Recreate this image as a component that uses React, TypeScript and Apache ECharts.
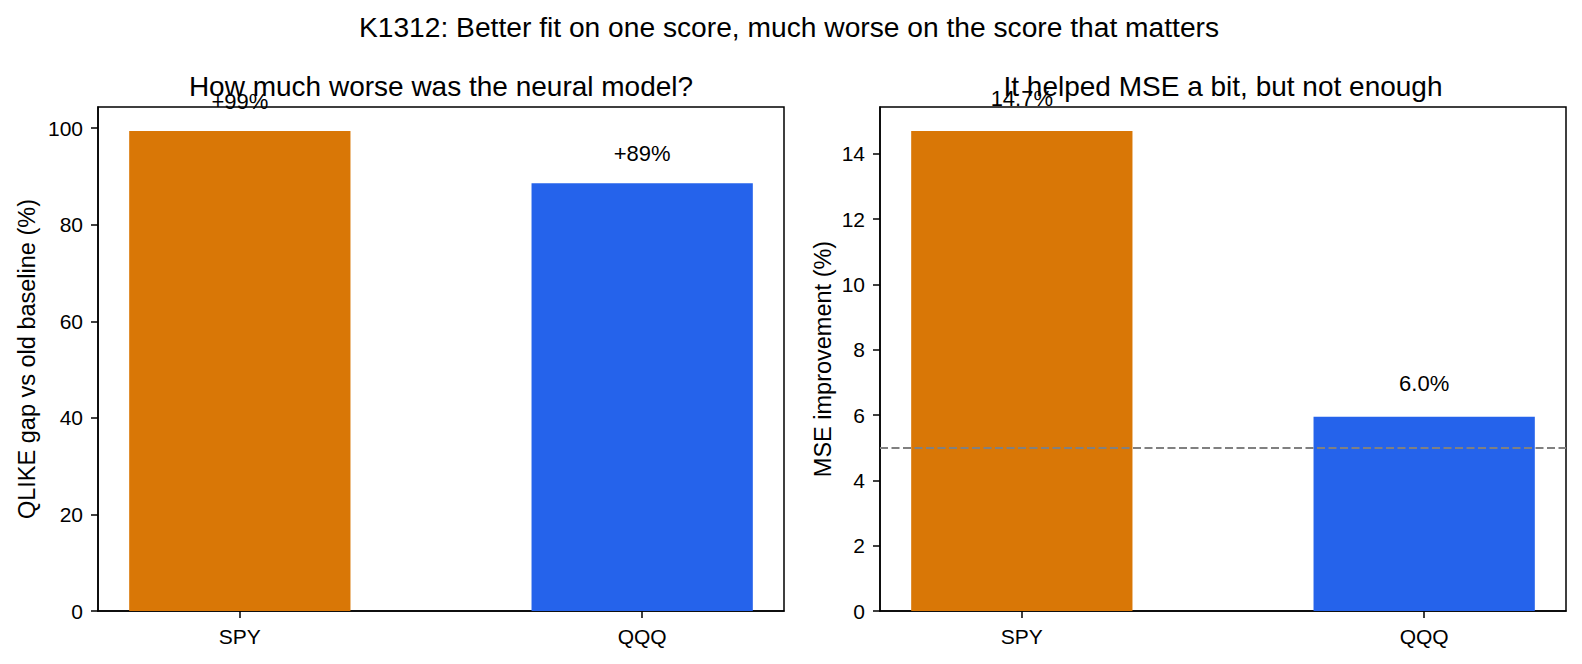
import { useEffect, useRef } from "react";
import * as echarts from "echarts";

// ---- data ----
const categories = ["SPY", "QQQ"];
const categoryPositions = [0, 1];
const barColors = ["#D97706", "#2563EB"];
const qlikeGap = [99.4, 88.6];
const qlikeLabels = ["+99%", "+89%"];
const mseImprovement = [14.7, 5.95];
const mseLabels = ["14.7%", "6.0%"];
const mseThreshold = 5;
const leftTicks = [0, 20, 40, 60, 80, 100];
const rightTicks = [0, 2, 4, 6, 8, 10, 12, 14];

const suptitle = "K1312: Better fit on one score, much worse on the score that matters";
const leftTitle = "How much worse was the neural model?";
const rightTitle = "It helped MSE a bit, but not enough";
const leftYName = "QLIKE gap vs old baseline (%)";
const rightYName = "MSE improvement (%)";

const FONT = "Liberation Sans, Arial, sans-serif";
const BAR_FRAC = 0.55;
const X_MIN = -BAR_FRAC / 2 - 0.05 * (1 + BAR_FRAC);
const X_MAX = 1 + BAR_FRAC / 2 + 0.05 * (1 + BAR_FRAC);

const GRID_TOP = 107;
const GRID_H = 504;
const GRID_W = 686;
const LEFT_X = 98;
const RIGHT_X = 880;

function xAxisFor(gridIndex: number) {
  return {
    type: "value",
    gridIndex,
    min: X_MIN,
    max: X_MAX,
    splitLine: { show: false },
    axisLine: { show: true, onZero: false, lineStyle: { color: "#000", width: 1.5 } },
    axisTick: {
      show: true,
      customValues: categoryPositions,
      length: 7,
      lineStyle: { color: "#000", width: 1.5 },
    },
    axisLabel: {
      show: true,
      customValues: categoryPositions,
      formatter: (v: number) => categories[Math.round(v)] ?? "",
      margin: 15,
      fontSize: 21,
      color: "#000",
      fontFamily: FONT,
    },
  };
}

function yAxisFor(gridIndex: number, max: number, ticks: number[], name: string, nameGap: number) {
  return {
    type: "value",
    gridIndex,
    position: "left",
    min: 0,
    max,
    name,
    nameLocation: "middle",
    nameRotate: 90,
    nameGap,
    nameTextStyle: { fontSize: 23.5, color: "#000", fontFamily: FONT },
    splitLine: { show: false },
    axisLine: { show: true, onZero: false, lineStyle: { color: "#000", width: 1.5 } },
    axisTick: { show: true, customValues: ticks, length: 7, lineStyle: { color: "#000", width: 1.5 } },
    axisLabel: {
      show: true,
      customValues: ticks,
      margin: 15,
      fontSize: 21,
      color: "#000",
      fontFamily: FONT,
    },
  };
}

export default function App() {
  const ref = useRef<HTMLDivElement>(null);

  useEffect(() => {
    document.body.style.margin = "0";
    if (!ref.current) return;
    const chart = echarts.init(ref.current, undefined, { renderer: "svg" });

    const leftMax = Math.max(...qlikeGap) * 1.05;
    const rightMax = Math.max(...mseImprovement) * 1.05;

    const textStyleBase = { fill: "#000", fontFamily: FONT };

    chart.setOption({
      animation: false,
      backgroundColor: "#fff",
      textStyle: { fontFamily: FONT },
      graphic: [
        {
          type: "text",
          x: 789,
          y: 27,
          style: { ...textStyleBase, text: suptitle, fontSize: 28.2, align: "center", verticalAlign: "middle" },
        },
        {
          type: "text",
          x: LEFT_X + GRID_W / 2,
          y: 86,
          style: { ...textStyleBase, text: leftTitle, fontSize: 28, align: "center", verticalAlign: "middle" },
        },
        {
          type: "text",
          x: RIGHT_X + GRID_W / 2,
          y: 86,
          style: { ...textStyleBase, text: rightTitle, fontSize: 28, align: "center", verticalAlign: "middle" },
        },
      ],
      grid: [
        {
          left: LEFT_X,
          top: GRID_TOP,
          width: GRID_W,
          height: GRID_H,
          show: true,
          borderColor: "#000",
          borderWidth: 1.5,
          backgroundColor: "transparent",
        },
        {
          left: RIGHT_X,
          top: GRID_TOP,
          width: GRID_W,
          height: GRID_H,
          show: true,
          borderColor: "#000",
          borderWidth: 1.5,
          backgroundColor: "transparent",
        },
      ],
      xAxis: [xAxisFor(0), xAxisFor(1)],
      yAxis: [
        yAxisFor(0, leftMax, leftTicks, leftYName, 59),
        yAxisFor(1, rightMax, rightTicks, rightYName, 45),
      ],
      series: [
        {
          type: "bar",
          xAxisIndex: 0,
          yAxisIndex: 0,
          barWidth: `${BAR_FRAC * 100}%`,
          data: categoryPositions.map((x, i) => ({
            value: [x, qlikeGap[i]],
            itemStyle: { color: barColors[i] },
          })),
          label: {
            show: true,
            position: "top",
            distance: 19,
            fontSize: 22,
            color: "#000",
            fontFamily: FONT,
            formatter: (p: any) => qlikeLabels[p.dataIndex],
          },
          z: 1,
        },
        {
          type: "bar",
          xAxisIndex: 1,
          yAxisIndex: 1,
          barWidth: `${BAR_FRAC * 100}%`,
          data: categoryPositions.map((x, i) => ({
            value: [x, mseImprovement[i]],
            itemStyle: { color: barColors[i] },
          })),
          label: {
            show: true,
            position: "top",
            distance: 22,
            fontSize: 22,
            color: "#000",
            fontFamily: FONT,
            formatter: (p: any) => mseLabels[p.dataIndex],
          },
          markLine: {
            silent: true,
            symbol: "none",
            label: { show: false },
            lineStyle: { color: "#808080", type: [8, 3.5], width: 2 },
            data: [{ yAxis: mseThreshold }],
          },
          z: 1,
        },
      ],
    });

    return () => chart.dispose();
  }, []);

  return <div ref={ref} style={{ width: 1582, height: 664 }} />;
}
